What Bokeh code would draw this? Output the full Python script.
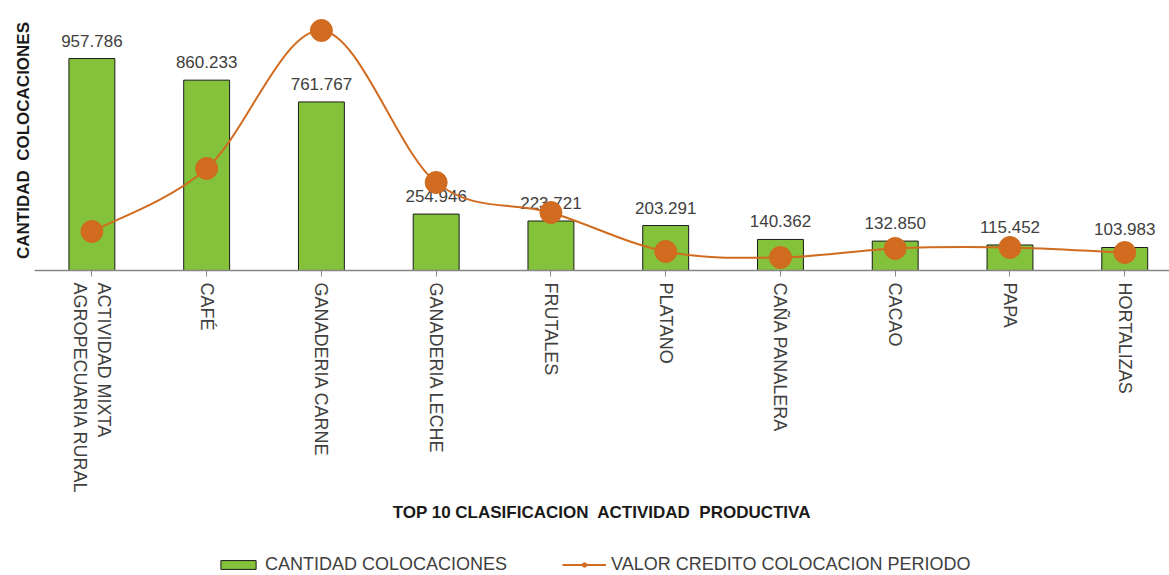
from bokeh.plotting import figure
from bokeh.layouts import column
from bokeh.models import Range1d, FixedTicker, Legend, LegendItem
from bokeh.core.properties import value
from bokeh.embed import file_html
from bokeh.resources import INLINE

categorias = ["ACTIVIDAD MIXTA\nAGROPECUARIA RURAL", "CAFÉ", "GANADERIA CARNE",
              "GANADERIA LECHE", "FRUTALES", "PLATANO", "CAÑA PANALERA", "CACAO", "PAPA", "HORTALIZAS"]
cantidad = [957786, 860233, 761767, 254946, 223721, 203291, 140362, 132850, 115452, 103983]
etiquetas = ["957.786", "860.233", "761.767", "254.946", "223.721", "203.291", "140.362",
             "132.850", "115.452", "103.983"]
valor = [78, 204, 480, 176, 116, 38, 26, 44, 46, 36]

VERDE = "#84c23b"
NARANJA = "#d06b1f"
FONT = "Liberation Sans"

xs = list(range(len(categorias)))

p = figure(frame_width=1135, frame_height=260, x_range=Range1d(-0.5, 9.39), y_range=Range1d(0, 1175000),
           output_backend="svg", toolbar_location=None,
           min_border_left=34, min_border_right=0, min_border_top=10, min_border_bottom=265)
p.extra_y_ranges = {"valor": Range1d(0, 520)}
p.grid.visible = False
p.outline_line_color = None
p.background_fill_color = "white"
p.border_fill_color = "white"

bars = p.vbar(x=xs, top=cantidad, width=0.4, fill_color=VERDE, line_color="#1a1a1a", line_width=1)

p.text(x=xs, y=cantidad, text=etiquetas, y_offset=-12, text_align="center", text_baseline="bottom",
       text_font=value(FONT), text_font_size="17px", text_color="#404040")

# smooth line (Catmull-Rom style bezier through the data points)
n = len(valor)
x0, y0, x1, y1, cx0, cy0, cx1, cy1 = [], [], [], [], [], [], [], []
for i in range(n - 1):
    a = i - 1 if i > 0 else i
    d = i + 2 if i + 2 < n else i + 1
    x0.append(xs[i]); y0.append(valor[i])
    x1.append(xs[i + 1]); y1.append(valor[i + 1])
    cx0.append(xs[i] + (xs[i + 1] - xs[a]) / 6.0)
    cy0.append(valor[i] + (valor[i + 1] - valor[a]) / 6.0)
    cx1.append(xs[i + 1] - (xs[d] - xs[i]) / 6.0)
    cy1.append(valor[i + 1] - (valor[d] - valor[i]) / 6.0)

p.bezier(x0=x0, y0=y0, x1=x1, y1=y1, cx0=cx0, cy0=cy0, cx1=cx1, cy1=cy1,
         line_color=NARANJA, line_width=2, y_range_name="valor")
p.scatter(x=xs, y=valor, size=22, fill_color=NARANJA, line_color=NARANJA, y_range_name="valor")

# axes
xa = p.xaxis[0]
xa.ticker = FixedTicker(ticks=xs)
xa.major_label_overrides = {i: c for i, c in zip(xs, categorias)}
xa.major_label_orientation = "vertical"
xa.minor_tick_line_color = None
xa.major_tick_in = 0
xa.major_tick_out = 6
xa.axis_line_color = "#868686"
xa.axis_line_width = 1.5
xa.major_tick_line_color = "#868686"
xa.major_label_text_font = FONT
xa.major_label_text_font_size = "18px"
xa.major_label_text_color = "#404040"
xa.major_label_standoff = 6
xa.axis_label = "TOP 10 CLASIFICACION\u00a0 ACTIVIDAD\u00a0 PRODUCTIVA"
xa.axis_label_text_font = FONT
xa.axis_label_text_font_style = "bold"
xa.axis_label_text_font_size = "17px"
xa.axis_label_text_color = "#1a1a1a"
xa.axis_label_standoff = 6

ya = p.yaxis[0]
ya.ticker = FixedTicker(ticks=[])
ya.axis_line_color = None
ya.major_tick_line_color = None
ya.minor_tick_line_color = None
ya.axis_label = "CANTIDAD\u00a0 COLOCACIONES"
ya.axis_label_text_font = FONT
ya.axis_label_text_font_style = "bold"
ya.axis_label_text_font_size = "17px"
ya.axis_label_text_color = "#1a1a1a"
ya.axis_label_standoff = 2

# legend strip (separate small figure below the chart)
lf = figure(width=1169, height=40, x_range=Range1d(0, 1), y_range=Range1d(0, 1),
            output_backend="svg", toolbar_location=None, min_border=0)
lf.axis.visible = False
lf.grid.visible = False
lf.outline_line_color = None
lbar = lf.vbar(x=[5], top=[1], width=0.1, fill_color=VERDE, line_color="#1a1a1a", line_width=1)
lline = lf.line(x=[5, 6], y=[0, 0], line_color=NARANJA, line_width=2)
lmark = lf.scatter(x=[5], y=[0], size=7, fill_color=NARANJA, line_color=NARANJA)

legend = Legend(items=[LegendItem(label="CANTIDAD COLOCACIONES", renderers=[lbar]),
                       LegendItem(label="VALOR CREDITO COLOCACION PERIODO", renderers=[lline, lmark])],
                orientation="horizontal", location=(182, 0),
                glyph_width=44, glyph_height=11, spacing=55, padding=0, margin=0, label_standoff=5,
                label_text_font=FONT, label_text_font_size="18px", label_text_color="#404040",
                border_line_color=None, background_fill_alpha=0)
lf.add_layout(legend, "center")

layout = column(p, lf, spacing=0)
open("out.html", "w").write(file_html(layout, INLINE))
